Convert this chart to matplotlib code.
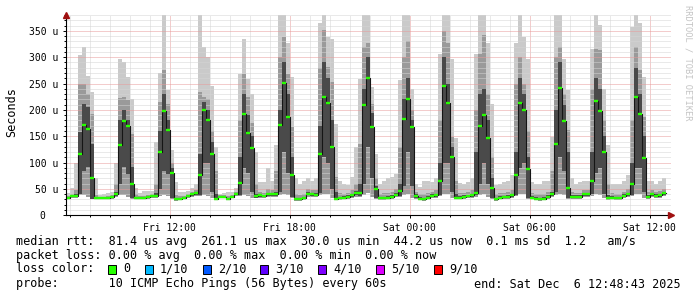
import numpy as np
import matplotlib
matplotlib.use("Agg")
import matplotlib.pyplot as plt
from matplotlib.patches import Rectangle

# 12 minute bins from Fri 06:48 to Sat 12:48 (hours counted from Fri 00:00)
bin_start = 6.8
bin_hours = 0.2

# median rtt per bin (us)
median = [32, 36, 36, 116, 171, 163, 70, 32, 32, 32, 32, 34, 41, 133, 178, 170, 60, 32, 32, 33,
          34, 36, 36, 121, 198, 161, 81, 30, 31, 33, 36, 40, 42, 77, 199, 180, 116, 30, 35, 35,
          31, 35, 41, 62, 192, 156, 128, 36, 38, 36, 40, 40, 40, 171, 251, 187, 77, 30, 30, 32,
          41, 40, 39, 116, 225, 213, 130, 30, 32, 33, 35, 38, 42, 42, 209, 261, 168, 49, 32, 32,
          33, 35, 39, 46, 183, 220, 167, 36, 31, 30, 33, 37, 38, 66, 245, 213, 111, 33, 33, 35,
          36, 38, 42, 169, 190, 146, 51, 30, 33, 34, 35, 38, 76, 213, 200, 88, 33, 31, 30, 31,
          35, 40, 135, 241, 178, 52, 35, 35, 35, 40, 40, 65, 216, 197, 120, 32, 33, 32, 32, 37,
          40, 60, 224, 192, 109, 34, 40, 37, 38, 42]
# slowest ping per bin
ping_max = [42, 51, 99, 304, 320, 265, 234, 70, 38, 41, 42, 44, 99, 296, 291, 263, 220, 51, 42, 47,
            46, 47, 139, 270, 380, 237, 123, 63, 44, 44, 47, 51, 60, 380, 320, 300, 245, 130, 41, 42,
            44, 44, 51, 269, 335, 259, 230, 120, 63, 63, 89, 66, 133, 380, 380, 326, 263, 70, 60, 66,
            70, 66, 70, 364, 380, 339, 334, 174, 66, 60, 57, 73, 130, 259, 380, 380, 244, 117, 60, 66,
            70, 73, 79, 256, 380, 380, 240, 60, 54, 66, 65, 63, 70, 307, 380, 380, 297, 146, 61, 60,
            63, 70, 307, 380, 380, 326, 212, 57, 59, 63, 66, 76, 326, 380, 339, 297, 63, 60, 60, 66,
            65, 149, 380, 380, 297, 237, 70, 60, 63, 66, 66, 316, 380, 361, 240, 133, 60, 60, 60, 66,
            76, 358, 380, 364, 263, 66, 66, 60, 66, 70]
# upper edge of the middle smoke band
band_top = [36, 40, 48, 250, 250, 231, 193, 38, 35, 35, 36, 38, 60, 222, 225, 218, 155, 40, 36, 37,
            38, 40, 60, 215, 275, 212, 100, 38, 36, 37, 40, 44, 48, 234, 225, 220, 160, 85, 38, 38,
            36, 38, 45, 180, 269, 225, 175, 60, 45, 42, 50, 48, 85, 300, 339, 269, 168, 40, 38, 40,
            50, 48, 48, 280, 351, 282, 253, 73, 42, 40, 42, 48, 60, 136, 320, 326, 212, 70, 40, 42,
            42, 45, 50, 130, 300, 330, 200, 45, 40, 40, 42, 45, 48, 180, 350, 326, 149, 66, 42, 43,
            45, 48, 200, 307, 342, 231, 110, 40, 42, 43, 45, 48, 250, 300, 250, 160, 42, 40, 40, 40,
            45, 85, 300, 320, 231, 161, 45, 43, 43, 48, 48, 240, 316, 313, 180, 60, 42, 40, 40, 45,
            50, 180, 320, 275, 187, 45, 48, 45, 46, 50]
# dark core of the smoke
core_top = [34, 38, 40, 158, 212, 205, 136, 34, 33, 33, 34, 36, 45, 180, 199, 180, 92, 35, 34, 35,
            36, 38, 42, 160, 230, 180, 90, 33, 33, 35, 38, 42, 44, 117, 215, 200, 140, 40, 36, 36,
            33, 36, 43, 110, 230, 190, 150, 40, 40, 38, 43, 43, 45, 200, 290, 230, 110, 33, 33, 35,
            44, 43, 42, 170, 290, 260, 180, 45, 35, 36, 38, 41, 46, 60, 240, 300, 195, 55, 35, 35,
            36, 38, 42, 60, 220, 260, 180, 40, 34, 33, 36, 40, 41, 100, 300, 250, 130, 40, 36, 38,
            39, 41, 120, 230, 240, 180, 70, 33, 36, 37, 38, 41, 120, 260, 230, 110, 36, 34, 33, 34,
            38, 45, 200, 290, 210, 120, 38, 38, 38, 43, 43, 120, 260, 240, 150, 38, 36, 35, 35, 40,
            43, 100, 280, 230, 150, 38, 43, 40, 41, 45]
core_bottom = [31, 34, 34, 41, 85, 92, 30, 31, 31, 31, 31, 32, 37, 60, 92, 79, 32, 31, 31, 31,
               32, 34, 34, 50, 85, 79, 32, 29, 30, 31, 34, 37, 39, 38, 100, 100, 45, 30, 33, 33,
               30, 33, 38, 38, 90, 80, 45, 33, 35, 34, 37, 37, 37, 45, 120, 80, 35, 29, 29, 30,
               38, 37, 36, 42, 110, 100, 50, 30, 30, 31, 33, 35, 38, 36, 60, 130, 70, 32, 30, 30,
               31, 33, 36, 36, 55, 120, 55, 33, 30, 29, 31, 34, 35, 38, 100, 100, 45, 31, 31, 33,
               34, 35, 38, 60, 100, 60, 32, 29, 31, 32, 33, 35, 38, 90, 100, 32, 31, 30, 29, 30,
               33, 37, 45, 110, 85, 33, 33, 33, 33, 37, 37, 40, 80, 90, 40, 30, 31, 30, 30, 34,
               37, 38, 90, 90, 45, 32, 37, 34, 35, 39]
# fastest ping per bin
ping_min = [30, 32, 33, 38, 38, 35, 30, 30, 30, 30, 30, 31, 34, 38, 38, 35, 30, 30, 30, 30,
            31, 32, 33, 36, 38, 36, 30, 28, 29, 30, 32, 35, 36, 36, 38, 36, 32, 29, 32, 32,
            29, 32, 36, 36, 38, 36, 33, 32, 33, 32, 35, 35, 35, 38, 40, 38, 32, 28, 28, 29,
            35, 35, 34, 38, 40, 40, 32, 29, 29, 30, 31, 33, 35, 34, 38, 42, 35, 30, 29, 29,
            30, 31, 34, 34, 38, 40, 33, 31, 29, 28, 30, 32, 33, 36, 40, 40, 32, 30, 30, 31,
            32, 33, 35, 38, 40, 35, 30, 28, 30, 31, 31, 33, 36, 40, 40, 30, 30, 29, 28, 29,
            31, 35, 38, 40, 38, 30, 31, 31, 31, 35, 35, 36, 40, 38, 33, 29, 30, 29, 29, 32,
            35, 36, 40, 40, 32, 30, 35, 32, 33, 36]

tick_hours = [12, 18, 24, 30, 36]
tick_names = ["Fri 12:00", "Fri 18:00", "Sat 00:00", "Sat 06:00", "Sat 12:00"]
y_ticks = [0, 50, 100, 150, 200, 250, 300, 350]
y_names = ["0  ", "50 u", "100 u", "150 u", "200 u", "250 u", "300 u", "350 u"]

loss_names = ["0", "1/10", "2/10", "3/10", "4/10", "5/10", "9/10"]
loss_colors = ["#26ff00", "#00b8ff", "#0059ff", "#5e00ff", "#7e00ff", "#dd00ff", "#ff0000"]

stats_line = "median rtt:  81.4 us avg  261.1 us max  30.0 us min  44.2 us now  0.1 ms sd  1.2   am/s"
loss_line = "packet loss: 0.00 % avg  0.00 % max  0.00 % min  0.00 % now"
probe_line = "probe:       10 ICMP Echo Pings (56 Bytes) every 60s"
end_line = "end: Sat Dec  6 12:48:43 2025"

mono = "DejaVu Sans Mono"
W, H = 697, 297

fig = plt.figure(figsize=(W / 100, H / 100), dpi=100)
fig.patch.set_facecolor("white")
ax = fig.add_axes([65.7 / W, (H - 215.3) / H, 605 / W, 200.8 / H])
ax.set_facecolor("white")

n = len(median)
edges = bin_start + bin_hours * np.arange(n + 1)

def stepped(vals):
    return np.append(vals, vals[-1])

ax.fill_between(edges, stepped(ping_min), stepped(ping_max), step="post", color="#cacaca", lw=0, zorder=1)
ax.fill_between(edges, stepped(ping_min), stepped(band_top), step="post", color="#9a9a9a", lw=0, zorder=2)
ax.fill_between(edges, stepped(core_bottom), stepped(core_top), step="post", color="#4a4a4a", lw=0, zorder=3)

# median: dark steps with green marks
ax.step(edges, stepped(median), where="post", color="#151515", lw=0.8, zorder=4)
ax.hlines(median, edges[:-1], edges[1:], color=loss_colors[0], lw=1.7, zorder=5)

ax.set_xlim(bin_start, bin_start + 30.25)
ax.set_ylim(0, 381)

ax.set_xticks(tick_hours)
ax.set_xticklabels(tick_names)
ax.set_xticks(np.arange(7, 37), minor=True)
ax.set_yticks(y_ticks)
ax.set_yticklabels(y_names)
ax.set_yticks(np.arange(0, 381, 10), minor=True)

ax.grid(which="minor", color="#d4d4d4", ls=(0, (1, 1)), lw=0.72, zorder=6)
ax.grid(which="major", color="#e89a9a", ls=(0, (1, 1)), lw=0.72, zorder=6)
ax.set_axisbelow(False)

ax.tick_params(which="major", length=2.5, width=0.7, labelsize=7, pad=3, colors="black")
ax.tick_params(which="minor", length=1.5, width=0.7)
for lab in ax.get_xticklabels() + ax.get_yticklabels():
    lab.set_family(mono)

for side in ("top", "right"):
    ax.spines[side].set_visible(False)
for side in ("left", "bottom"):
    ax.spines[side].set_color("black")
    ax.spines[side].set_linewidth(0.8)
    ax.spines[side].set_zorder(7)

# axis arrows
ax.plot([0], [1.0], marker="^", ms=4, color="#a01010", transform=ax.transAxes, clip_on=False, zorder=8)
ax.plot([1.0], [0], marker=">", ms=4, color="#a01010", transform=ax.transAxes, clip_on=False, zorder=8)

fig.text(12 / W, 1 - 112 / H, "Seconds", rotation=90, family=mono, fontsize=8.5,
         ha="center", va="center")
fig.text(688 / W, 1 - 5 / H, "RRDTOOL / TOBI OETIKER", rotation=-90, family=mono,
         fontsize=6.3, color="#c4c4c4", ha="center", va="top")

fs = 8.5
fig.text(16 / W, 1 - 241 / H, stats_line, family=mono, fontsize=fs, va="center")
fig.text(16 / W, 1 - 255 / H, loss_line, family=mono, fontsize=fs, va="center")
fig.text(16 / W, 1 - 269 / H, "loss color:", family=mono, fontsize=fs, va="center")
fig.text(16 / W, 1 - 284 / H, probe_line, family=mono, fontsize=fs, va="center")
fig.text(681 / W, 1 - 284 / H, end_line, family=mono, fontsize=fs, va="center", ha="right")

box_x = [108, 145, 203, 260, 318, 376, 434]
for bx, name, col in zip(box_x, loss_names, loss_colors):
    fig.add_artist(Rectangle((bx / W, 1 - 274 / H), 8 / W, 9 / H, transform=fig.transFigure,
                             facecolor=col, edgecolor="black", lw=0.7))
    fig.text((bx + 15) / W, 1 - 269 / H, name, family=mono, fontsize=fs, va="center")

fig.savefig("out.png", dpi=100)
